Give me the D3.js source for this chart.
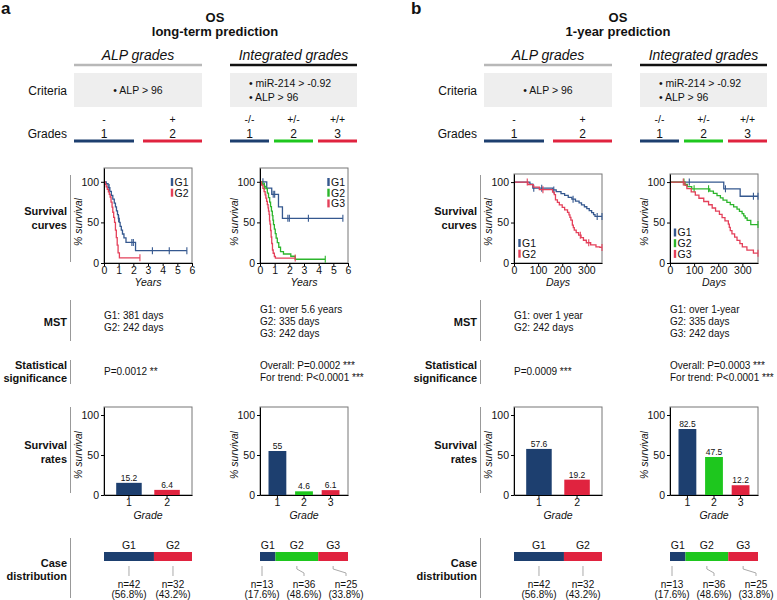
<!DOCTYPE html>
<html>
<head>
<meta charset="utf-8">
<script src="https://cdn.jsdelivr.net/npm/d3@7"></script>
<style>
  body { margin: 0; background: #fff; }
  svg { font-family: "Liberation Sans", Arial, Helvetica, sans-serif; }
</style>
</head>
<body>
<svg id="fig" width="777" height="600"></svg>
<script>
// ---------- data ----------
const alpGrades = ["1", "2"];
const intGrades = ["1", "2", "3"];
const alpSigns = ["-", "+"];
const intSigns = ["-/-", "+/-", "+/+"];
const alpCriteria = ["\u2022 ALP > 96"];
const intCriteria = ["\u2022 miR-214 > -0.92", "\u2022 ALP > 96"];
const legendAlp = ["G1", "G2"];
const legendInt = ["G1", "G2", "G3"];

// long-term survival, [years, % survival]
const longAlpG1 = [[0,100],[0.15,97.6],[0.28,92.9],[0.4,88.1],[0.5,83.3],[0.6,78.6],[0.7,73.8],[0.78,69],[0.85,64.3],[0.92,59.5],[0.98,54.8],[1.04,50],[1.1,45.2],[1.18,40.5],[1.26,35.7],[1.36,31],[1.5,25.3],[2.15,15.2],[5.65,15.2]];
const longAlpG2 = [[0,100],[0.08,96.9],[0.15,93.8],[0.22,90.6],[0.3,87.5],[0.36,84.4],[0.42,81.3],[0.48,75],[0.55,68.8],[0.6,62.5],[0.66,56.3],[0.72,50],[0.78,40.6],[0.84,31.3],[0.9,21.9],[0.96,12.5],[1.05,6.4],[2.45,6.4]];
const longAlpCensor = [[0.35, 1.0, 1.9, 2.0, 3.3, 4.45, 5.65], [2.45]];
const longIntG1 = [[0,100],[0.46,92.3],[0.8,84.6],[1.26,69.2],[1.53,55],[5.65,55]];
const longIntG2 = [[0,100],[0.15,97.2],[0.3,94.4],[0.4,91.7],[0.5,86.1],[0.58,80.6],[0.66,75],[0.72,69.4],[0.78,63.9],[0.84,58.3],[0.88,52.8],[0.92,47.2],[0.98,41.7],[1.04,36.1],[1.1,30.6],[1.18,25],[1.28,19.4],[1.4,13.9],[1.6,11.1],[2.1,8.3],[2.4,4.6],[4.45,4.6]];
const longIntG3 = [[0,100],[0.1,96],[0.2,92],[0.28,88],[0.35,84],[0.4,80],[0.45,76],[0.5,72],[0.55,68],[0.58,64],[0.62,60],[0.65,52],[0.68,48],[0.72,40],[0.76,32],[0.8,24],[0.85,16],[0.9,12],[0.98,8],[1.05,6.1],[2.4,6.1]];
const longIntCensor = [[0.2, 0.9, 1.0, 1.9, 2.0, 3.3, 5.65], [0.3, 4.45], [2.4]];

// 1-year survival, [days, % survival]
const yearAlpG1 = [[0,100],[66,97.6],[78,92.5],[161,90.3],[175,88.1],[195,85.8],[210,83.5],[225,81.2],[240,78.9],[255,76.5],[270,74.2],[280,71.9],[292,69.5],[302,67.1],[312,64.7],[322,62.3],[330,59.9],[336,57.6],[365,57.6]];
const yearAlpG2 = [[0,100],[58,96.9],[80,93.8],[105,90.6],[160,87.5],[167,84.4],[172,78.1],[180,75],[188,71.9],[200,68.8],[210,65.6],[222,62.5],[228,59.4],[232,56.3],[236,53.1],[242,46.9],[246,43.8],[250,40.6],[258,37.5],[268,34.4],[278,31.3],[288,28.1],[300,25],[318,22.5],[340,20],[356,19.2],[365,19.2]];
const yearAlpCensor = [[82, 115, 165, 245, 345, 365], [55, 120, 275, 310, 365]];
const yearIntG1 = [[0,100],[223,91.7],[291,82.5],[365,82.5]];
const yearIntG2 = [[0,100],[62,97.2],[72,94.4],[90,91.7],[165,88.9],[180,86.1],[195,83.3],[209,80.6],[220,77.8],[236,75],[250,72.2],[264,69.4],[278,66.7],[288,63.9],[299,61.1],[306,58.3],[312,55.6],[320,52.8],[335,47.5],[365,47.5]];
const yearIntG3 = [[0,100],[62,96],[70,92],[88,88],[105,84],[120,80],[140,76],[160,72],[175,68],[189,64],[205,60],[216,56],[228,52],[242,48],[246,44],[250,40],[257,36],[268,32],[278,28],[290,24],[300,20],[319,16],[346,12.2],[365,12.2]];
const yearIntCensor = [[80, 230, 346, 365], [58, 100, 160, 365], [55, 365]];

const longMstAlp = ["G1: 381 days", "G2: 242 days"];
const longMstInt = ["G1: over 5.6 years", "G2: 335 days", "G3: 242 days"];
const longStatAlp = ["P=0.0012 **"];
const longStatInt = ["Overall: P=0.0002 ***", "For trend: P<0.0001 ***"];
const longRatesAlp = [15.2, 6.4];
const longRatesInt = [55, 4.6, 6.1];

const yearMstAlp = ["G1: over 1 year", "G2: 242 days"];
const yearMstInt = ["G1: over 1-year", "G2: 335 days", "G3: 242 days"];
const yearStatAlp = ["P=0.0009 ***"];
const yearStatInt = ["Overall: P=0.0003 ***", "For trend: P<0.0001 ***"];
const yearRatesAlp = [57.6, 19.2];
const yearRatesInt = [82.5, 47.5, 12.2];

const alpCounts = [42, 32];
const alpPcts = ["56.8", "43.2"];
const intCounts = [13, 36, 25];
const intPcts = ["17.6", "48.6", "33.8"];

const yearTicks = [0, 1, 2, 3, 4, 5, 6];
const dayTicks = [0, 100, 200, 300];
const pctTicks = [0, 50, 100];

// ---------- colours ----------
const barBlue = "#1d3f6f", barGreen = "#1ec71e", barRed = "#e0233f";
const lineBlue = "#35588f", lineGreen = "#2cb52c", lineRed = "#e4405a";
const alpBarCols = [barBlue, barRed], intBarCols = [barBlue, barGreen, barRed];
const alpLineCols = [lineBlue, lineRed], intLineCols = [lineBlue, lineGreen, lineRed];

const svg = d3.select("#fig");
const W = 88;                // plot width
const FS = 10.5;             // axis font size
const TS = 10;               // body text size

function addText(x, y, str, o = {}) {
  return svg.append("text")
    .attr("x", x).attr("y", y)
    .attr("text-anchor", o.anchor || "start")
    .attr("font-size", o.size || TS)
    .attr("font-weight", o.weight || "normal")
    .attr("font-style", o.style || "normal")
    .attr("fill", o.fill || "#111")
    .text(str);
}

function vline(x, y1, y2, col, w) {
  svg.append("line").attr("x1", x).attr("x2", x).attr("y1", y1).attr("y2", y2)
    .attr("stroke", col || "#999").attr("stroke-width", w || 1);
}

function hline(x1, x2, y, col, w) {
  svg.append("line").attr("x1", x1).attr("x2", x2).attr("y1", y).attr("y2", y)
    .attr("stroke", col).attr("stroke-width", w);
}

function styleAxis(g) {
  g.attr("font-size", FS).attr("font-family", "'Liberation Sans', Arial, sans-serif");
  g.selectAll("text").attr("fill", "#111");
}

function valueAt(curve, t) {
  let v = curve[0][1];
  curve.forEach(d => { if (d[0] <= t) v = d[1]; });
  return v;
}

// ---------- panels ----------
function survivalPanel(px, curves, censors, colors, xMax, xTicks, xTitle, yMax, yTop, legend) {
  const x = d3.scaleLinear().domain([0, xMax]).range([px, px + W]);
  const y = d3.scaleLinear().domain([0, yMax]).range([263, yTop]);

  svg.append("rect").attr("x", px).attr("y", yTop).attr("width", W).attr("height", 263 - yTop)
    .attr("fill", "none").attr("stroke", "#777").attr("stroke-width", 1);

  const line = d3.line().x(d => x(d[0])).y(d => y(d[1])).curve(d3.curveStepAfter);
  curves.forEach((c, i) => {
    svg.append("path").datum(c).attr("d", line)
      .attr("fill", "none").attr("stroke", colors[i]).attr("stroke-width", 1.3);
    svg.append("g").selectAll("line").data(censors[i]).join("line")
      .attr("x1", t => x(t)).attr("x2", t => x(t))
      .attr("y1", t => y(valueAt(c, t)) - 3.5).attr("y2", t => y(valueAt(c, t)) + 3.5)
      .attr("stroke", colors[i]).attr("stroke-width", 1.1);
  });

  const gx = svg.append("g").attr("transform", "translate(0,263)")
    .call(d3.axisBottom(x).tickValues(xTicks).tickFormat(d3.format("d"))
      .tickSize(3).tickSizeOuter(0).tickPadding(1));
  styleAxis(gx);
  const gy = svg.append("g").attr("transform", `translate(${px},0)`)
    .call(d3.axisLeft(y).tickValues(pctTicks).tickSize(3).tickSizeOuter(0).tickPadding(2));
  styleAxis(gy);

  addText(px + W / 2, 286, xTitle, { anchor: "middle", style: "italic", size: FS });
  addText(0, 0, "% survival", { anchor: "middle", style: "italic", size: FS })
    .attr("transform", `translate(${px - 22},222) rotate(-90)`);

  legend.names.forEach((n, i) => {
    const ly = legend.y + i * 10.7;
    svg.append("rect").attr("x", legend.x - 1.2).attr("y", ly - 4).attr("width", 2.4).attr("height", 8)
      .attr("fill", colors[i]);
    addText(legend.x + 2.5, ly + 3.8, n, { size: FS });
  });
}

function ratePanel(px, grades, values, colors) {
  const x = d3.scaleBand().domain(grades).range([px, px + W]).paddingInner(0.33).paddingOuter(0.32);
  const y = d3.scaleLinear().domain([0, 110]).range([495, 407]);

  svg.append("rect").attr("x", px).attr("y", 407).attr("width", W).attr("height", 88)
    .attr("fill", "none").attr("stroke", "#777").attr("stroke-width", 1);

  svg.append("g").selectAll("rect").data(values).join("rect")
    .attr("x", (d, i) => x(grades[i]))
    .attr("y", d => y(d))
    .attr("width", x.bandwidth())
    .attr("height", d => 495 - y(d))
    .attr("fill", (d, i) => colors[i]);

  svg.append("g").selectAll("text").data(values).join("text")
    .attr("x", (d, i) => x(grades[i]) + x.bandwidth() / 2)
    .attr("y", d => y(d) - 2)
    .attr("text-anchor", "middle").attr("font-size", 8.5).attr("fill", "#111")
    .text(d => d);

  const gx = svg.append("g").attr("transform", "translate(0,495)")
    .call(d3.axisBottom(x).tickSize(3).tickSizeOuter(0).tickPadding(1));
  styleAxis(gx);
  const gy = svg.append("g").attr("transform", `translate(${px},0)`)
    .call(d3.axisLeft(y).tickValues(pctTicks).tickSize(3).tickSizeOuter(0).tickPadding(2));
  styleAxis(gy);

  addText(px + W / 2, 519, "Grade", { anchor: "middle", style: "italic", size: FS });
  addText(0, 0, "% survival", { anchor: "middle", style: "italic", size: FS })
    .attr("transform", `translate(${px - 22},455) rotate(-90)`);
}

function casePanel(px, counts, pcts, colors) {
  const total = d3.sum(counts);
  const x = d3.scaleLinear().domain([0, total]).range([px, px + W]);
  const starts = d3.cumsum([0].concat(counts)).slice(0, counts.length);
  const n = counts.length;

  svg.append("g").selectAll("rect").data(counts).join("rect")
    .attr("x", (d, i) => x(starts[i]))
    .attr("y", 552).attr("height", 9)
    .attr("width", d => x(d) - x(0))
    .attr("fill", (d, i) => colors[i]);

  counts.forEach((d, i) => {
    const cx = x(starts[i] + d / 2);
    const lx = n === 2 ? cx : px + 2 + i * (W - 4) / (n - 1);
    addText(cx, 549, "G" + (i + 1), { anchor: "middle", size: FS });
    const sx = (n > 2 && i === 0) ? lx : cx;
    svg.append("path")
      .attr("d", `M${sx},566 L${sx},569 L${lx},573 L${lx},576`)
      .attr("fill", "none").attr("stroke", "#aaa").attr("stroke-width", 1);
    addText(lx, 587.5, "n=" + d, { anchor: "middle" });
    addText(lx, 598, "(" + pcts[i] + "%)", { anchor: "middle" });
  });
}

function header(dx, letter, sub, titleX) {
  addText(dx + 1, 14, letter, { size: 17, weight: "bold" });
  addText(titleX, 21.5, "OS", { anchor: "middle", size: 13, weight: "bold" });
  addText(titleX, 36, sub, { anchor: "middle", size: 13, weight: "bold" });

  addText(dx + 138, 59.5, "ALP grades", { anchor: "middle", size: 14, style: "italic" });
  addText(dx + 293.5, 59.5, "Integrated grades", { anchor: "middle", size: 14, style: "italic" });
  hline(dx + 74, dx + 202, 65, "#b8b8b8", 2.5);
  hline(dx + 230, dx + 357, 65, "#111", 2.5);

  svg.append("rect").attr("x", dx + 74).attr("y", 73).attr("width", 128).attr("height", 34).attr("fill", "#eeeeee");
  svg.append("rect").attr("x", dx + 230).attr("y", 73).attr("width", 127).attr("height", 34).attr("fill", "#eeeeee");
  addText(dx + 138, 94, alpCriteria[0], { anchor: "middle", size: FS });
  intCriteria.forEach((c, i) => addText(dx + 249, 87 + i * 14, c, { size: FS }));

  addText(dx + 67, 94.5, "Criteria", { anchor: "end", size: 12 });
  addText(dx + 67, 137.5, "Grades", { anchor: "end", size: 12 });

  const alpSegs = [[74, 134], [143, 202]];
  const intSegs = [[230, 269], [274, 313], [318, 357]];
  alpSegs.forEach((s, i) => {
    const cx = dx + (s[0] + s[1]) / 2;
    addText(cx, 123, alpSigns[i], { anchor: "middle", size: FS });
    addText(cx, 137.5, alpGrades[i], { anchor: "middle", size: 12 });
    hline(dx + s[0], dx + s[1], 141, alpBarCols[i], 3);
  });
  intSegs.forEach((s, i) => {
    const cx = dx + (s[0] + s[1]) / 2;
    addText(cx, 123, intSigns[i], { anchor: "middle", size: FS });
    addText(cx, 137.5, intGrades[i], { anchor: "middle", size: 12 });
    hline(dx + s[0], dx + s[1], 141, intBarCols[i], 3);
  });

  // row labels + separators
  const rl = (lines, yc) => lines.forEach((t, i) =>
    addText(dx + 67, yc + 4 + (i - (lines.length - 1) / 2) * 13.5, t, { anchor: "end", size: 11, weight: "bold" }));
  rl(["Survival", "curves"], 218);
  vline(dx + 70.5, 175, 262);
  rl(["MST"], 321.5);
  vline(dx + 70.5, 300, 341);
  rl(["Statistical", "significance"], 371.5);
  vline(dx + 70.5, 360, 384);
  rl(["Survival", "rates"], 452);
  vline(dx + 70.5, 407, 493);
  rl(["Case", "distribution"], 569.5);
  vline(dx + 70.5, 538, 598);
}

function textBlock(x, yc, lines) {
  lines.forEach((t, i) => addText(x, yc + 4 + (i - (lines.length - 1) / 2) * 12, t));
}

// ---------- half a: long-term ----------
header(0, "a", "long-term prediction", 215);
survivalPanel(104, [longAlpG1, longAlpG2], longAlpCensor, alpLineCols, 6, yearTicks, "Years", 117, 168,
  { names: legendAlp, x: 172, y: 182 });
survivalPanel(260, [longIntG1, longIntG2, longIntG3], longIntCensor, intLineCols, 6, yearTicks, "Years", 117, 168,
  { names: legendInt, x: 328.5, y: 182 });
textBlock(104, 320.5, longMstAlp);
textBlock(260, 320.5, longMstInt);
textBlock(104, 371, longStatAlp);
textBlock(260, 371, longStatInt);
ratePanel(104, alpGrades, longRatesAlp, alpBarCols);
ratePanel(260, intGrades, longRatesInt, intBarCols);
casePanel(104, alpCounts, alpPcts, alpBarCols);
casePanel(260, intCounts, intPcts, intBarCols);

// ---------- half b: 1-year ----------
header(410, "b", "1-year prediction", 618);
survivalPanel(514, [yearAlpG1, yearAlpG2], yearAlpCensor, alpLineCols, 365, dayTicks, "Days", 110, 174,
  { names: legendAlp, x: 519.5, y: 243 });
survivalPanel(670, [yearIntG1, yearIntG2, yearIntG3], yearIntCensor, intLineCols, 365, dayTicks, "Days", 110, 174,
  { names: legendInt, x: 675, y: 232.5 });
textBlock(514, 320.5, yearMstAlp);
textBlock(670, 320.5, yearMstInt);
textBlock(514, 371, yearStatAlp);
textBlock(670, 371, yearStatInt);
ratePanel(514, alpGrades, yearRatesAlp, alpBarCols);
ratePanel(670, intGrades, yearRatesInt, intBarCols);
casePanel(514, alpCounts, alpPcts, alpBarCols);
casePanel(670, intCounts, intPcts, intBarCols);
</script>
</body>
</html>
